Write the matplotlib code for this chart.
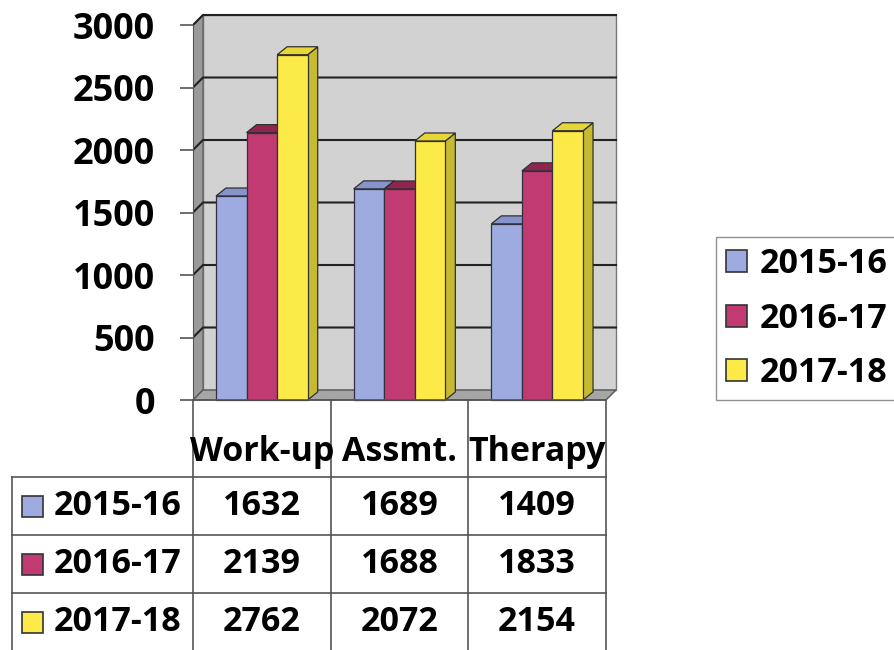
import matplotlib.pyplot as plt
from matplotlib.patches import Polygon, Rectangle, Patch

# data
categories = ["Work-up", "Assmt.", "Therapy"]
years = ["2015-16", "2016-17", "2017-18"]
v_1516 = [1632, 1689, 1409]
v_1617 = [2139, 1688, 1833]
v_1718 = [2762, 2072, 2154]
y_ticks = [0, 500, 1000, 1500, 2000, 2500, 3000]

series = [v_1516, v_1617, v_1718]
front_cols = ["#9eabe0", "#c23a72", "#fbea48"]
top_cols = ["#8794cc", "#8e2650", "#e6d63a"]
side_cols = ["#7581b6", "#96285a", "#c8ba2e"]

FONT = "Open Sans"
W, H = 894, 650
fig = plt.figure(figsize=(W / 100, H / 100), dpi=100)

# ---- 3d-looking column chart ----
px_x = 137.67      # pixels per category
px_y = 0.125       # pixels per unit value
ax = fig.add_axes([193 / W, 1 - 402 / H, (620 - 193) / W, (402 - 10) / H])
ax.set_xlim(-0.5, -0.5 + 427 / px_x)
ax.set_ylim(-2 / px_y, 390 / px_y)
ax.patch.set_alpha(0)

ddx = 10 / px_x    # wall depth
ddy = 10 / px_y
bdx = 10 / px_x    # bar depth
bdy = 8 / px_y
x0, x1 = -0.5, 2.5
top = y_ticks[-1]

# back wall, side wall, floor
ax.add_patch(Polygon([(x0 + ddx, ddy), (x1 + ddx, ddy), (x1 + ddx, top + ddy), (x0 + ddx, top + ddy)],
                     closed=True, fc="#d2d2d2", ec="#777777", lw=1, zorder=0))
ax.add_patch(Polygon([(x0, 0), (x0 + ddx, ddy), (x0 + ddx, top + ddy), (x0, top)],
                     closed=True, fc="#9a9a9a", ec="#666666", lw=1, zorder=0.5))
for t in y_ticks[1:]:
    ax.plot([x0, x0 + ddx, x1 + ddx], [t, t + ddy, t + ddy], color="#222222", lw=1.5, zorder=1)
ax.add_patch(Polygon([(x0, 0), (x1, 0), (x1 + ddx, ddy), (x0 + ddx, ddy)],
                     closed=True, fc="#a6a6a6", ec="#555555", lw=1, zorder=1.5))

bw = 0.222
z = 2
for j in range(len(categories)):
    for i, vals in enumerate(series):
        v = vals[j]
        xl = j + (i - 1) * bw - bw / 2
        ax.add_patch(Polygon([(xl + bw, 0), (xl + bw + bdx, bdy), (xl + bw + bdx, v + bdy), (xl + bw, v)],
                             closed=True, fc=side_cols[i], ec="#303030", lw=0.9, zorder=z))
        ax.add_patch(Polygon([(xl, v), (xl + bw, v), (xl + bw + bdx, v + bdy), (xl + bdx, v + bdy)],
                             closed=True, fc=top_cols[i], ec="#303030", lw=0.9, zorder=z))
        ax.bar(xl, v, width=bw, align="edge", color=front_cols[i], edgecolor="#303040",
               lw=0.9, zorder=z + 0.5)
        z += 1

ax.plot([x0, x1], [0, 0], color="#555555", lw=1.2, zorder=z, clip_on=False)

for s in ["top", "right", "bottom"]:
    ax.spines[s].set_visible(False)
ax.spines["left"].set_bounds(0, top)
ax.spines["left"].set_color("#555555")
ax.set_xticks([])
ax.set_yticks(y_ticks)
ax.set_yticklabels([str(t) for t in y_ticks], fontfamily=FONT, fontweight="bold", fontsize=26)
ax.tick_params(axis="y", direction="out", length=9.5, width=1.2, color="#555555", pad=18)

# ---- data table ----
tax = fig.add_axes([0, 0, 1, 1])
tax.set_xlim(0, W)
tax.set_ylim(H, 0)
tax.axis("off")
tax.patch.set_alpha(0)

col_edges = [193, 331, 468, 606]
row_edges = [400, 477, 535, 593, 651]
lc = "#555555"
for xe in col_edges:
    tax.plot([xe, xe], [row_edges[0], H], color=lc, lw=1.2)
tax.plot([12, 12], [row_edges[1], H], color=lc, lw=1.2)
for ye in row_edges[1:4]:
    tax.plot([12, col_edges[-1]], [ye, ye], color=lc, lw=1.2)

tfs = 24.5
for j, c in enumerate(categories):
    cx = (col_edges[j] + col_edges[j + 1]) / 2
    tax.text(cx, 452, c, ha="center", va="center", fontfamily=FONT, fontweight="bold", fontsize=tfs)
for i, (yr, vals) in enumerate(zip(years, series)):
    cy = (row_edges[i + 1] + row_edges[i + 2]) / 2
    tax.add_patch(Rectangle((22, cy - 10.5), 21, 21, fc=front_cols[i], ec="#333333", lw=1.2))
    tax.text(54, cy, yr, ha="left", va="center", fontfamily=FONT, fontweight="bold", fontsize=tfs)
    for j, v in enumerate(vals):
        cx = (col_edges[j] + col_edges[j + 1]) / 2
        tax.text(cx, cy, str(v), ha="center", va="center", fontfamily=FONT, fontweight="bold", fontsize=tfs)

# ---- legend ----
handles = [Patch(fc=front_cols[i], ec="#333333", lw=1.2) for i in range(len(years))]
fig.legend(handles, years, loc="upper left", bbox_to_anchor=(716 / W, 1 - 237 / H),
           prop={"family": FONT, "weight": "bold", "size": tfs}, frameon=True, fancybox=False,
           edgecolor="#777777", borderaxespad=0, borderpad=0.3, handlelength=0.62,
           handleheight=0.62, handletextpad=0.35, labelspacing=0.6)

fig.savefig("out.png", dpi=100)
